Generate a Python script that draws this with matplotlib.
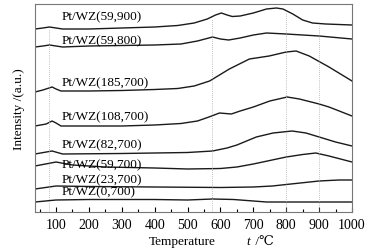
import matplotlib
matplotlib.use('Agg')

import numpy as np
import matplotlib.pyplot as plt
from matplotlib.ticker import MultipleLocator

plt.rcParams['font.family'] = ['Liberation Serif', 'DejaVu Serif']
plt.rcParams['font.size'] = 9.5

# Data (temperature in degC, intensity in arbitrary units, stacked)
labels = ['Pt/WZ(59,900)', 'Pt/WZ(59,800)', 'Pt/WZ(185,700)', 'Pt/WZ(108,700)',
          'Pt/WZ(82,700)', 'Pt/WZ(59,700)', 'Pt/WZ(23,700)', 'Pt/WZ(0,700)']
label_y = [196, 172, 130, 96, 68, 48, 33, 21]

t_5900 = [36, 60, 80, 100, 120, 200, 300, 400, 470, 520, 560, 585, 603, 620, 636, 660,
          700, 740, 770, 790, 820, 850, 880, 920, 1000]
i_5900 = [183, 184, 185, 184, 183, 183, 184, 185, 186.5, 189, 193, 197, 199, 197, 195.5, 196,
          199, 203, 204, 203, 198, 192, 189, 188, 187]

t_5800 = [36, 60, 80, 100, 120, 200, 300, 400, 480, 530, 576, 600, 625, 660, 700, 740,
          800, 900, 1000]
i_5800 = [165, 166, 167, 166, 165, 166, 166.5, 167, 168, 171, 175, 173, 172, 174, 177, 179,
          178, 176, 173]

t_185 = [36, 60, 88, 100, 115, 200, 300, 400, 470, 520, 567, 627, 688, 748, 800, 830,
         870, 930, 1000]
i_185 = [120, 122, 125, 123, 121, 121, 121.5, 122.5, 123.5, 126, 131, 143, 153, 156, 160, 161,
         156, 145, 131]

t_108 = [36, 70, 88, 100, 115, 200, 300, 400, 480, 530, 565, 597, 633, 660, 700, 750,
         803, 840, 900, 930, 1000]
i_108 = [86, 88, 91, 89, 86, 86, 86, 87, 88.5, 91, 95, 99, 98, 101, 105, 111,
         115, 113, 108, 105, 96]

t_82 = [36, 88, 120, 300, 500, 576, 620, 650, 709, 760, 818, 860, 890, 950, 1000]
i_82 = [58, 61, 58, 58.5, 59.5, 61, 64, 67, 75, 79, 81, 79, 76, 70, 66]

t_59 = [36, 100, 150, 250, 400, 500, 600, 650, 700, 800, 850, 890, 930, 1000]
i_59 = [46, 50, 47, 45, 44, 43, 43.5, 45, 48, 55, 57.5, 59, 56, 50]

t_23 = [36, 100, 200, 400, 600, 700, 758, 800, 900, 960, 1000]
i_23 = [23, 26, 25.5, 25, 24.5, 25, 26, 27.5, 31, 32, 32]

t_0 = [36, 100, 200, 400, 500, 576, 640, 700, 740, 1000]
i_0 = [10, 12, 12.5, 12.5, 12, 13, 12.5, 11, 10, 10]

temps = [t_5900, t_5800, t_185, t_108, t_82, t_59, t_23, t_0]
intens = [i_5900, i_5800, i_185, i_108, i_82, i_59, i_23, i_0]

guide_t = [80, 575, 800, 900]

fig = plt.figure(figsize=(3.68, 2.51), dpi=100)
ax = fig.add_axes([35 / 368, 38 / 251, 317 / 368, 208 / 251])

for t, y in zip(temps, intens):
    ax.plot(t, y, color='#1a1a1a', lw=1.0)

# dotted guides run from the bottom up to the top curve
for g in guide_t:
    top = np.interp(g, t_5900, i_5900) - 2
    ax.plot([g, g], [0, top], color='#aaaaaa', lw=0.6, ls=(0, (1, 1.5)))

for lab, ly in zip(labels, label_y):
    ax.text(118, ly, lab, ha='left', va='center', fontsize=9.5)

ax.set_xlim(36, 1000)
ax.set_ylim(0, 208)
ax.xaxis.set_major_locator(MultipleLocator(100))
ax.xaxis.set_minor_locator(MultipleLocator(50))
ax.set_yticks([])
ax.tick_params(axis='x', which='major', direction='in', length=3.5, width=0.8, pad=4, labelsize=10)
ax.tick_params(axis='x', which='minor', direction='in', length=2, width=0.8)
for s in ax.spines.values():
    s.set_color('#777777')
    s.set_linewidth(0.8)

ax.set_ylabel('Intensity /(a.u.)', fontsize=9.5, labelpad=7)
fig.text(182 / 368, 1 - 242 / 251, 'Temperature', ha='center', va='center', fontsize=9.5)
fig.text(246 / 368, 1 - 242 / 251, 't', ha='left', va='center', fontsize=9.5, style='italic')
fig.text(252 / 368, 1 - 242 / 251, ' /℃', ha='left', va='center', fontsize=9.5)

fig.savefig('out.png', dpi=100)
